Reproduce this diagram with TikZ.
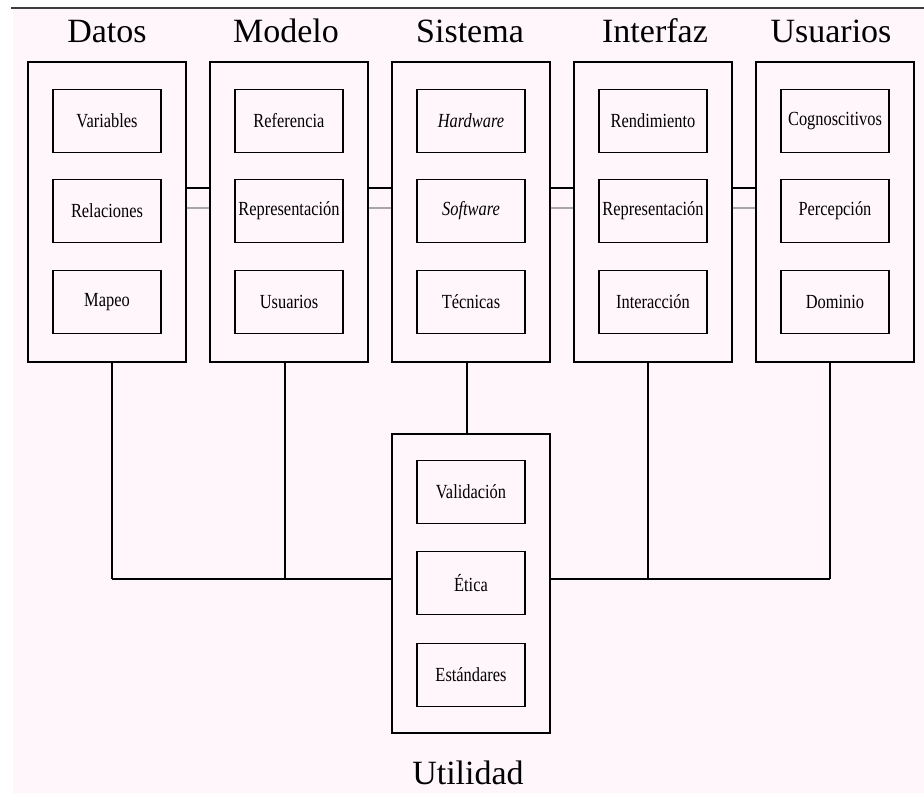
\documentclass[tikz,border=0pt]{standalone}
\usepackage{fontspec}
\setmainfont{Liberation Serif}
\usepackage{graphicx}
\definecolor{bgpink}{RGB}{255,246,252}
\definecolor{topline}{RGB}{60,60,60}
\newcommand{\itxt}[1]{\scalebox{0.82}[1]{\fontsize{20}{22}\selectfont #1}}
\begin{document}
\begin{tikzpicture}[x=1pt,y=1pt,
  outerbox/.style={draw=black,line width=1.5pt,minimum width=158pt,minimum height=300pt,inner sep=0pt},
  innerbox/.style={draw=black,line width=1.2pt,minimum width=108pt,minimum height=63pt,inner sep=0pt},
  title/.style={font=\fontsize{34}{36}\selectfont,anchor=base},
  link/.style={line width=1.3pt,draw=black},
  glink/.style={line width=1.1pt,draw=gray!70}]
\useasboundingbox (0,0) rectangle (924,-793);
\fill[white] (0,0) rectangle (924,-793);
\fill[bgpink] (13,-9) rectangle (924,-793);
\draw[topline,line width=2pt] (11,-8) -- (924,-8);

% titles
\node[title] (tdatos) at (107,-42) {Datos};
\node[title] (tmodelo) at (286,-42) {Modelo};
\node[title] (tsistema) at (470,-42) {Sistema};
\node[title] (tinterfaz) at (655,-42) {Interfaz};
\node[title] (tusuarios) at (831,-42) {Usuarios};
\node[title] (tutil) at (468,-784) {Utilidad};

% outer boxes
\node[outerbox] (datos) at (107,-212) {};
\node[outerbox] (modelo) at (289,-212) {};
\node[outerbox] (sistema) at (471,-212) {};
\node[outerbox] (interfaz) at (653,-212) {};
\node[outerbox] (usuarios) at (835,-212) {};
\node[outerbox,minimum height=299pt] (util) at (471,-583.5) {};

% inner boxes
\node[innerbox] (d1) at (107,-121) {\itxt{Variables}};
\node[innerbox] (d2) at (107,-211) {\itxt{Relaciones}};
\node[innerbox] (d3) at (107,-302) {\itxt{Mapeo}};
\node[innerbox] (m1) at (289,-121) {\itxt{Referencia}};
\node[innerbox] (m2) at (289,-211) {\itxt{Representación}};
\node[innerbox] (m3) at (289,-302) {\itxt{Usuarios}};
\node[innerbox] (s1) at (471,-121) {\itxt{\itshape Hardware}};
\node[innerbox] (s2) at (471,-211) {\itxt{\itshape Software}};
\node[innerbox] (s3) at (471,-302) {\itxt{Técnicas}};
\node[innerbox] (i1) at (653,-121) {\itxt{Rendimiento}};
\node[innerbox] (i2) at (653,-211) {\itxt{Representación}};
\node[innerbox] (i3) at (653,-302) {\itxt{Interacción}};
\node[innerbox] (u1) at (835,-121) {\itxt{Cognoscitivos}};
\node[innerbox] (u2) at (835,-211) {\itxt{Percepción}};
\node[innerbox] (u3) at (835,-302) {\itxt{Dominio}};
\node[innerbox] (v1) at (471,-492) {\itxt{Validación}};
\node[innerbox] (v2) at (471,-583) {\itxt{Ética}};
\node[innerbox] (v3) at (471,-675) {\itxt{Estándares}};

% horizontal links between top boxes
\foreach \a/\b in {datos/modelo,modelo/sistema,sistema/interfaz,interfaz/usuarios}{
  \draw[link] ([yshift=24pt]\a.east) -- ([yshift=24pt]\b.west);
  \draw[glink] ([yshift=4pt]\a.east) -- ([yshift=4pt]\b.west);
}

% bus coordinates
\coordinate (bl) at ([xshift=5pt]datos.south |- 0,-579);
\coordinate (bm) at ([xshift=-4pt]modelo.south |- 0,-579);
\coordinate (bi) at ([xshift=-5pt]interfaz.south |- 0,-579);
\coordinate (br) at ([xshift=-5pt]usuarios.south |- 0,-579);

\draw[link] ([xshift=5pt]datos.south) -- (bl);
\draw[link] ([xshift=-4pt]modelo.south) -- (bm);
\draw[link] ([xshift=-5pt]interfaz.south) -- (bi);
\draw[link] ([xshift=-5pt]usuarios.south) -- (br);
\draw[link] ([xshift=-4pt]sistema.south) -- ([xshift=-4pt]util.north);
\draw[link] (bl) -- (util.west |- bl);
\draw[link] (util.east |- br) -- (br);
\end{tikzpicture}
\end{document}
